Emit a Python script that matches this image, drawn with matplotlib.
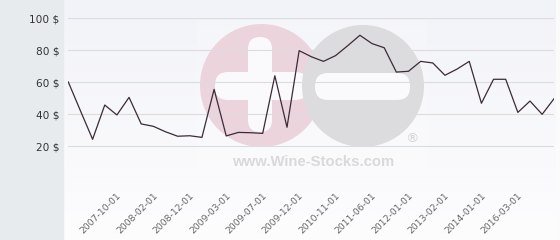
import numpy as np
import matplotlib
matplotlib.use('Agg')
from matplotlib import pyplot as plt
from matplotlib.patches import Circle, Rectangle, FancyBboxPatch
from matplotlib.transforms import ScaledTranslation

# prix (une valeur par date)
prices = [60, 42, 24.2, 45.6, 39.4, 50.4, 33.8, 32.3, 28.9, 26.1,
          26.4, 25.4, 55.4, 26.3, 28.5, 28.3, 27.9, 63.9, 31.7, 79.6,
          75.8, 72.9, 76.5, 82.7, 89.2, 84, 81.4, 66.2, 66.7, 72.9,
          71.9, 64.2, 68.1, 72.9, 46.7, 61.7, 61.7, 41, 48.1, 39.8, 49.8]
tick_labels = ['2007-10-01', '2008-02-01', '2008-12-01', '2009-03-01',
               '2009-07-01', '2009-12-01', '2010-11-01', '2011-06-01',
               '2012-01-01', '2013-02-01', '2014-01-01', '2016-03-01']
y_ticks = [20, 40, 60, 80, 100]

fig = plt.figure(figsize=(5.6, 2.4), dpi=100)

# fond + filigrane, en coordonnées pixels
bg = fig.add_axes([0, 0, 1, 1])
bg.set_xlim(0, 560)
bg.set_ylim(240, 0)
bg.axis('off')
bg.add_patch(Rectangle((0, 0), 560, 240, color='#fbfbfc', zorder=0))
grad = np.linspace(0, 1, 100).reshape(-1, 1)
bg.imshow(grad, extent=(63, 556, 240, 0), cmap=matplotlib.colors.LinearSegmentedColormap.from_list(
    'bgc', ['#f2f3f8', '#fdfdfe']), aspect='auto', zorder=1)
bg.add_patch(Rectangle((0, 0), 63, 240, color='#e8ebee', zorder=2))

bg.add_patch(Rectangle((197, 20), 230, 153, color='white', alpha=0.2, lw=0, zorder=2))
bg.add_patch(Circle((261.5, 85.5), 61.5, color='#ecd4dd', lw=0, zorder=3))
bg.add_patch(FancyBboxPatch((248, 37), 24, 95, boxstyle='round,pad=0,rounding_size=12',
                            color='#fafafc', lw=0, zorder=4))
bg.add_patch(FancyBboxPatch((215, 72), 93, 28, boxstyle='round,pad=0,rounding_size=13',
                            color='#fafafc', lw=0, zorder=4))
bg.add_patch(Circle((363, 86), 61, color='#dcdcdf', lw=0, zorder=5))
bg.add_patch(FancyBboxPatch((315, 73), 95, 27, boxstyle='round,pad=0,rounding_size=13',
                            color='#fafafc', lw=0, zorder=6))
bg.text(412, 139, '\u00ae', fontsize=9.5, color='#d2d2d4', ha='center', va='center', zorder=6)
bg.text(313, 162, 'www.Wine-Stocks.com', fontsize=10.7, fontweight='bold', family='Liberation Sans',
        color='#d9d9db', ha='center', va='center', zorder=6)

# le graphique
ax = fig.add_axes([68.3 / 560, 1 - 178 / 240, (554.3 - 68.3) / 560, 160 / 240])
ax.patch.set_alpha(0)
x = np.arange(len(prices))
ax.plot(x, prices, color='#3b2a38', lw=0.9, zorder=5)
ax.set_xlim(0, len(prices) - 1)
ax.set_ylim(0, 100)
for v in [0] + y_ticks:
    ax.axhline(v, color='#dcdcdf', lw=0.8, zorder=1)
for s in ax.spines.values():
    s.set_visible(False)

ax.set_yticks(y_ticks)
ax.set_yticklabels([str(v) + ' $' for v in y_ticks])
ax.tick_params(axis='y', length=0, pad=6.5, labelsize=7.6, labelcolor='#333333')

tick_pos = np.arange(4, len(prices), 3)[:len(tick_labels)]
ax.set_xticks(tick_pos)
ax.set_xticklabels(tick_labels, rotation=45, ha='right', va='top')
ax.tick_params(axis='x', length=0, pad=9.5, labelsize=6.7, labelcolor='#666666')
for lab in ax.get_xticklabels():
    lab.set_transform(lab.get_transform() + ScaledTranslation(0.06, 0, fig.dpi_scale_trans))

fig.savefig('out.png', dpi=100)
